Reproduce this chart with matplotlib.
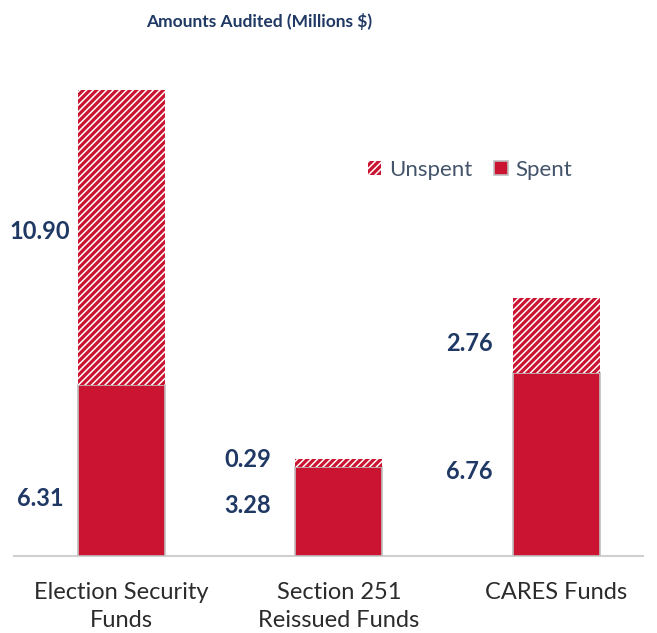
import matplotlib.pyplot as plt
import numpy as np

categories = ['Election Security\nFunds', 'Section 251\nReissued Funds', 'CARES Funds']
spent = [6.31, 3.28, 6.76]
unspent = [10.90, 0.29, 2.76]

red = '#CB1432'
navy = '#1F3864'
plt.rcParams['font.family'] = ['Lato', 'DejaVu Sans']
plt.rcParams['hatch.linewidth'] = 2.3

fig = plt.figure(figsize=(6.57, 6.33), dpi=100)
ax = fig.add_axes([14 / 657, 77 / 633, 629 / 657, 496 / 633])

x = np.arange(len(categories))
w = 0.4
b1 = ax.bar(x, spent, w, color=red, edgecolor='#BFBFBF', linewidth=1.2, label='Spent', zorder=3)
b2 = ax.bar(x, unspent, w, bottom=spent, color='white', edgecolor=red, hatch='/////',
            linewidth=0, label='Unspent', zorder=3)

# data labels sit left of each bar, nudged by hand (points)
label_dx = [-0.375, -0.42, -0.40]
spent_dy = [-20, 4.5, -5]
unspent_dy = [4.5, 3, -6]
for i in range(len(x)):
    lx = x[i] + label_dx[i]
    ax.annotate(f'{spent[i]:.2f}', (lx, spent[i] / 2), xytext=(0, spent_dy[i]),
                textcoords='offset points', ha='center', va='center',
                fontsize=17, fontweight='bold', color=navy)
    ax.annotate(f'{unspent[i]:.2f}', (lx, spent[i] + unspent[i] / 2), xytext=(0, unspent_dy[i]),
                textcoords='offset points', ha='center', va='center',
                fontsize=17, fontweight='bold', color=navy)

ax.set_xlim(-0.494, 2.398)
ax.set_ylim(0, 18.3)
ax.set_xticks(x)
ax.set_xticklabels(categories, fontsize=17, color='#2B2B2B', linespacing=1.4)
ax.tick_params(axis='x', length=0, pad=19)
ax.set_yticks([])
for s in ['top', 'right', 'left']:
    ax.spines[s].set_visible(False)
ax.spines['bottom'].set_color('#D0D0D0')
ax.spines['bottom'].set_linewidth(1.5)

leg = ax.legend(handles=[b2, b1], loc='center left', bbox_to_anchor=(0.545, 0.778), ncol=2,
                frameon=False, borderpad=0, fontsize=16, handlelength=0.6, handleheight=0.6,
                columnspacing=1.0, handletextpad=0.35)
for t in leg.get_texts():
    t.set_color('#44546A')

fig.suptitle('Amounts Audited (Millions $)', x=259 / 657, y=1 - 22 / 633, va='center',
             fontsize=12.5, fontweight='bold', color=navy)

fig.savefig('out.png', dpi=100)
